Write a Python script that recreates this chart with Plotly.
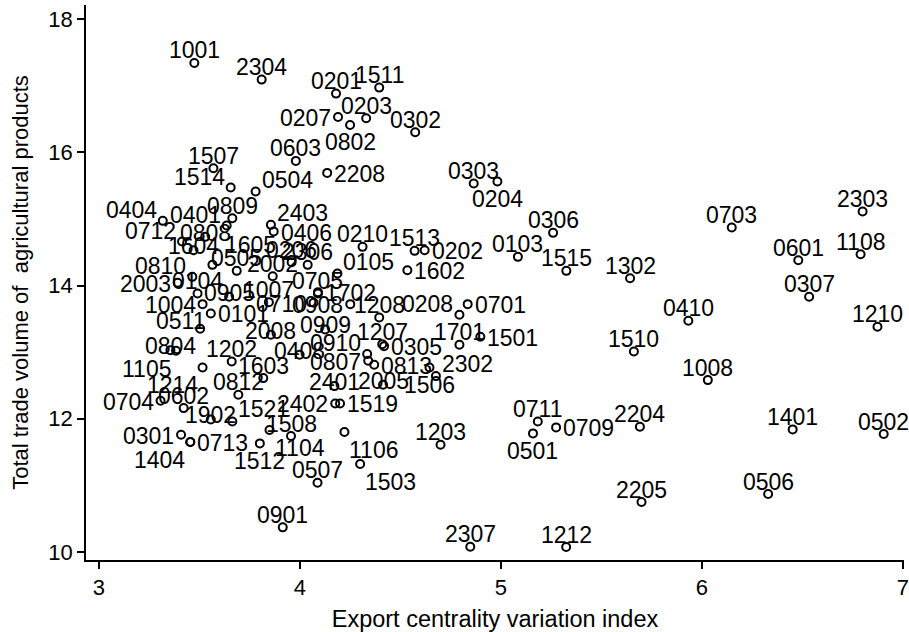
import plotly.graph_objects as go

# HS codes (labels)
codes = ["1001","2304","0201","1511","0207","0203","0802","0302","0603","2208",
         "0303","0204","1507","1514","0504","0809","0404","0306","0103","1515",
         "1302","0703","2303","0601","1108","0307","0410","1210","1510","1008",
         "0711","0501","0709","2204","1401","0502","0506","2205","1212","2307",
         "0901","1203","1106","1503","0507",
         "0401","0808","0712","1604","2403","0406","1605","2306","0206","0505",
         "2002","0210","1513","0202","0105","1602","0810","2003","0104","1004",
         "0905","1007","0710","0705","1702","0908","1208","0208","0701","0511",
         "0101","2008","0909","1701","1501","1207","0305","0910","0408","0807",
         "0813","2302","1506","2401","2005","1202","0804","1105","1214","1603",
         "0812","0704","0602","1902","1521","2402","1519","0301","0713","1404",
         "1512","1104","1508"]

# Export centrality variation index
export_cv = [3.475,3.81,4.18,4.395,4.19,4.33,4.25,4.574,3.98,4.136,
             4.865,4.983,3.57,3.656,3.78,3.664,3.318,5.26,5.085,5.326,
             5.643,6.149,6.80,6.48,6.79,6.534,5.933,6.874,5.662,6.03,
             5.184,5.16,5.275,5.692,6.452,6.905,6.33,5.70,5.325,4.848,
             3.915,4.70,4.222,4.30,4.088,
             3.636,3.529,3.414,3.471,3.856,3.870,3.565,4.039,3.959,3.686,
             3.865,4.312,4.571,4.621,4.187,4.535,3.465,3.392,3.491,3.516,
             3.648,3.846,4.068,4.090,4.090,4.251,4.395,4.794,4.835,3.504,
             3.557,3.856,4.126,4.794,4.898,4.410,4.419,4.335,3.999,4.340,
             4.370,4.677,4.645,4.172,4.414,3.661,3.356,3.384,3.516,3.818,
             3.694,3.307,3.422,3.557,3.664,4.176,4.200,3.409,3.455,3.455,
             3.801,3.849,3.956]

# Total trade volume of agricultural products
trade_vol = [17.34,17.09,16.88,16.97,16.53,16.51,16.41,16.30,15.87,15.69,
             15.53,15.56,15.76,15.47,15.41,15.01,14.97,14.79,14.43,14.22,
             14.11,14.87,15.11,14.38,14.47,13.83,13.47,13.38,13.01,12.58,
             11.96,11.78,11.87,11.88,11.84,11.77,10.87,10.75,10.075,10.08,
             10.37,11.61,11.80,11.32,11.04,
             14.90,14.73,14.66,14.53,14.91,14.81,14.31,14.31,14.35,14.22,
             14.14,14.58,14.52,14.53,14.18,14.23,14.13,14.04,13.88,13.72,
             13.83,13.75,13.74,13.88,13.90,13.72,13.52,13.56,13.72,13.35,
             13.58,13.26,13.34,13.11,13.23,13.12,13.09,12.97,12.96,12.87,
             12.81,12.64,12.77,12.49,12.51,12.86,13.03,13.02,12.77,12.61,
             12.36,12.27,12.16,11.99,11.96,12.23,12.23,11.76,11.65,11.65,
             11.63,11.83,11.74]

# marker-label clock position (style): xanchor, xshift, yshift in px
POS = {"TC": ("center", 0, 12.5), "BC": ("center", 0, -17.5),
       "ML": ("right", -6, -1),   "MR": ("left", 6, -1),
       "TL": ("right", -5, 11),   "TR": ("left", 5, 12),
       "BL": ("right", -4, -18),  "BR": ("left", 4, -18),
       "MC": ("center", 0, 4),
       "T11": ("right", 6, 8),    "T1": ("left", 12, 20)}
label_pos = ["TC","TC","TC","TC","ML","TC","BC","TC","TC","MR",
             "TC","BC","TC","TL","TR","TC","TL","TC","TC","TC",
             "TC","TC","TC","TC","TC","TC","TC","TC","TC","TC",
             "TC","BC","MR","TC","TC","TC","TC","TC","TC","TC",
             "TC","TC","BR","BR","TC",
             "TL","MC","TL","MC","TR","MR","T1","TC","TC","TC",
             "TC","TC","TC","MR","TR","MR","TL","ML","TC","ML",
             "MC","TC","ML","TC","MR","ML","TC","TL","MR","T11",
             "MR","MC","MC","TC","MR","TC","MR","TL","MC","ML",
             "MR","TR","BC","MC","MC","TC","MC","BL","BL","TC",
             "TC","ML","TC","MC","TR","ML","MR","ML","MR","BL",
             "BC","BR","TC"]

FONT = "Liberation Sans, Arial, sans-serif"
LABEL_SIZE = 23

fig = go.Figure(go.Scatter(
    x=export_cv, y=trade_vol, text=codes, mode="markers",
    marker=dict(symbol="circle-open", size=8, color="black", line=dict(width=2, color="black")),
    hoverinfo="x+y+text", showlegend=False))

annotations = []
for xv, yv, t, p in zip(export_cv, trade_vol, codes, label_pos):
    xa, xs, ys = POS[p]
    annotations.append(dict(x=xv, y=yv, xref="x", yref="y", text=t, showarrow=False,
                            xanchor=xa, yanchor="middle", xshift=xs, yshift=ys,
                            borderpad=0,
                            font=dict(family=FONT, size=LABEL_SIZE, color="black")))

fig.update_layout(
    width=909, height=632,
    margin=dict(l=86, r=0, t=5, b=72),
    paper_bgcolor="white", plot_bgcolor="white",
    font=dict(family=FONT, size=22, color="black"),
    annotations=annotations,
    xaxis=dict(range=[2.936, 7.006], tickvals=[3,4,5,6,7], showgrid=False, zeroline=False,
               showline=True, linecolor="black", linewidth=1.5, ticks="outside", ticklen=7,
               tickwidth=1.5, tickcolor="black", tickfont=dict(size=22), ticklabeloverflow="allow",
               title=dict(text="Export centrality variation index", font=dict(size=23.5), standoff=12)),
    yaxis=dict(range=[9.88, 18.21], tickvals=[10,12,14,16,18], showgrid=False, zeroline=False,
               showline=True, linecolor="black", linewidth=1.5, ticks="outside", ticklen=7,
               tickwidth=1.5, tickcolor="black", tickfont=dict(size=22),
               title=dict(text="Total trade volume of  agricultural products", font=dict(size=22), standoff=14)),
)

fig.write_html("out.html", config={"displayModeBar": False},
               post_script="document.body.style.margin='0';")
